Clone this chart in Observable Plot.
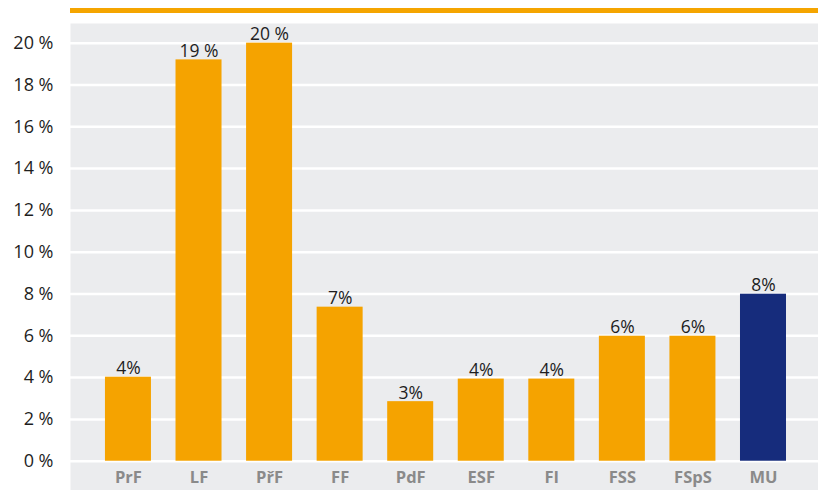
<!DOCTYPE html>
<html>
<head>
<meta charset="utf-8">
<script src="https://cdn.jsdelivr.net/npm/d3@7"></script>
<script src="https://cdn.jsdelivr.net/npm/@observablehq/plot@0.6"></script>
<style>
  html, body { margin: 0; padding: 0; background: #fff; }
  body { width: 818px; height: 490px; overflow: hidden; font-family: "Open Sans", sans-serif; }
  #topbar { margin-left: 70px; margin-top: 8px; height: 5px; width: 748px; background: #F5A500; }
  #chart { margin-top: 10px; }
  #chart svg { display: block; }
</style>
</head>
<body>
<div id="topbar"></div>
<div id="chart"></div>
<script>
const faculties = ["PrF", "LF", "PřF", "FF", "PdF", "ESF", "FI", "FSS", "FSpS", "MU"];
const shares = [4.02, 19.2, 20.0, 7.37, 2.85, 3.93, 3.93, 5.98, 5.98, 7.99];
const valueLabels = ["4%", "19 %", "20 %", "7%", "3%", "4%", "4%", "6%", "6%", "8%"];
const groups = ["f", "f", "f", "f", "f", "f", "f", "f", "f", "u"];
const yTicks = [0, 2, 4, 6, 8, 10, 12, 14, 16, 18, 20];

const data = faculties.map((f, i) => ({name: f, value: shares[i], label: valueLabels[i], group: groups[i]}));

const chart = Plot.plot({
  width: 818,
  height: 467,
  marginLeft: 70,
  marginRight: 0,
  marginTop: 0,
  marginBottom: 0,
  style: {fontFamily: "'Open Sans', sans-serif", background: "transparent", overflow: "visible"},
  x: {domain: faculties, paddingInner: 0.348, paddingOuter: 0.4745, align: 0.522, round: false, axis: null},
  y: {domain: [-1.40, 20.94], axis: null},
  color: {domain: ["f", "u"], range: ["#F5A300", "#162C7C"]},
  marks: [
    Plot.frame({fill: "#EBECEE", stroke: null}),
    Plot.ruleY(yTicks, {stroke: "#ffffff", strokeWidth: 2.5}),
    Plot.barY(data, {x: "name", y: "value", fill: "group"}),
    Plot.text(data, {x: "name", y: "value", text: "label", lineAnchor: "bottom", dy: -3, fontSize: 17.5, fill: "#1e1e1e"}),
    Plot.text(data, {x: "name", y: -0.78, text: "name", lineAnchor: "middle", fontSize: 16.5, fontWeight: "bold", fill: "#8a8a8a"}),
    Plot.axisY(yTicks, {tickSize: 0, tickPadding: 17, tickFormat: d => d + " %", fontSize: 18, fill: "#1e1e1e", label: null})
  ]
});
document.getElementById("chart").appendChild(chart);
</script>
</body>
</html>
